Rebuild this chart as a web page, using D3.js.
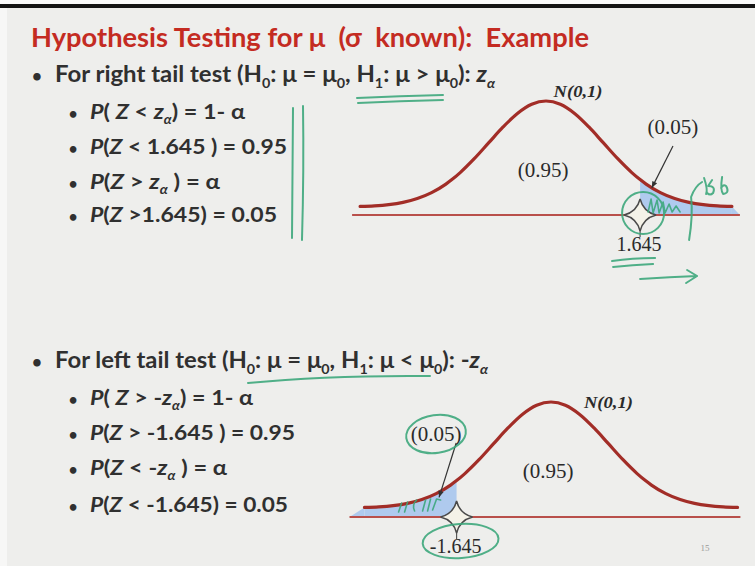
<!DOCTYPE html>
<html>
<head>
<meta charset="utf-8">
<script src="https://cdn.jsdelivr.net/npm/d3@7"></script>
<style>
  html, body { margin: 0; padding: 0; background: #eeeeec; }
  svg { display: block; }
  text { white-space: pre; }
</style>
</head>
<body>
<svg id="slide" width="755" height="566"></svg>
<script>
// ---- Standard normal density N(0,1), tabulated ----
const zValues = [-3.25, -3, -2.75, -2.5, -2.25, -2, -1.75, -1.645, -1.5, -1.25, -1, -0.75, -0.5, -0.25, 0,
                 0.25, 0.5, 0.75, 1, 1.25, 1.5, 1.645, 1.75, 2, 2.25, 2.5, 2.75, 3, 3.25];
const densities = [0.0020, 0.0044, 0.0091, 0.0175, 0.0317, 0.0540, 0.0863, 0.1031, 0.1295, 0.1826, 0.2420, 0.3011, 0.3521, 0.3867, 0.3989,
                   0.3867, 0.3521, 0.3011, 0.2420, 0.1826, 0.1295, 0.1031, 0.0863, 0.0540, 0.0317, 0.0175, 0.0091, 0.0044, 0.0020];
const criticalValues = [1.645, -1.645];       // right-tail, left-tail
const tailSides = ["right", "left"];
const bodyAreaLabels = ["(0.95)", "(0.95)"];
const tailAreaLabels = ["(0.05)", "(0.05)"];
const tickLabels = ["1.645", "-1.645"];
const distLabels = ["N(0,1)", "N(0,1)"];

// ---- Slide text (segments: [text, flags]; i = italic, s = subscript) ----
const titleText = "Hypothesis Testing for \u03bc  (\u03c3  known):  Example";
const headRight = [["For right tail test (H"], ["0", "s"], [": \u03bc = \u03bc"], ["0", "s"], [", H"], ["1", "s"], [": \u03bc > \u03bc"], ["0", "s"], ["): "], ["z", "i"], ["\u03b1", "is"]];
const headLeft  = [["For left tail test (H"], ["0", "s"], [": \u03bc = \u03bc"], ["0", "s"], [", H"], ["1", "s"], [": \u03bc < \u03bc"], ["0", "s"], ["): -"], ["z", "i"], ["\u03b1", "is"]];
const rowsRight = [
  [["P", "i"], ["( "], ["Z", "i"], [" < "], ["z", "i"], ["\u03b1", "is"], [") = 1- \u03b1"]],
  [["P", "i"], ["("], ["Z", "i"], [" < 1.645 ) = 0.95"]],
  [["P", "i"], ["("], ["Z", "i"], [" > "], ["z", "i"], ["\u03b1", "is"], [" ) = \u03b1"]],
  [["P", "i"], ["("], ["Z", "i"], [" >1.645) = 0.05"]]
];
const rowsLeft = [
  [["P", "i"], ["( "], ["Z", "i"], [" > -"], ["z", "i"], ["\u03b1", "is"], [") = 1- \u03b1"]],
  [["P", "i"], ["("], ["Z", "i"], [" > -1.645 ) = 0.95"]],
  [["P", "i"], ["("], ["Z", "i"], [" < -"], ["z", "i"], ["\u03b1", "is"], [" ) = \u03b1"]],
  [["P", "i"], ["("], ["Z", "i"], [" < -1.645) = 0.05"]]
];

// ---- Layout ----
const W = 755, H = 566;
const sans = "Lato, 'Open Sans', sans-serif";
const serif = "'Liberation Serif', 'DejaVu Serif', serif";
const ink = "#303030", red = "#c42b22", curveRed = "#a22d27", axisRed = "#b9504b";
const fillBlue = "#afcaee", penGreen = "#3da77c";

const svg = d3.select("#slide");

// slide frame
svg.append("rect").attr("width", W).attr("height", H).attr("fill", "#eeeeec");
svg.append("rect").attr("x", 0).attr("y", 0).attr("width", 7).attr("height", H).attr("fill", "#f7f7f6");
svg.append("rect").attr("x", 0).attr("y", 0).attr("width", W).attr("height", 4).attr("fill", "#fafafa");
svg.append("rect").attr("x", 0).attr("y", 4).attr("width", W).attr("height", 4).attr("fill", "#141414");

function richText(parent, x, y, segs, size, width, color, weight) {
  const t = parent.append("text")
    .attr("x", x).attr("y", y)
    .attr("font-family", sans).attr("font-size", size)
    .attr("font-weight", weight || 700).attr("fill", color || ink);
  let shifted = 0;
  segs.forEach(([txt, flags = ""]) => {
    const sp = t.append("tspan").text(txt);
    if (flags.includes("i")) sp.attr("font-style", "italic");
    const wantShift = flags.includes("s") ? Math.round(size * 0.25) : 0;
    if (wantShift !== shifted) { sp.attr("dy", wantShift - shifted); shifted = wantShift; }
    if (flags.includes("s")) sp.attr("font-size", size * 0.6);
  });
  if (width) t.attr("textLength", width).attr("lengthAdjust", "spacingAndGlyphs");
  return t;
}
function bullet(x, y, size) {
  svg.append("text").attr("x", x).attr("y", y).attr("text-anchor", "middle")
    .attr("font-family", sans).attr("font-size", size).attr("font-weight", 700)
    .attr("fill", ink).text("\u2022");
}

// Title
svg.append("text").attr("x", 31).attr("y", 47)
  .attr("font-family", sans).attr("font-size", 27).attr("font-weight", 700)
  .attr("fill", red).attr("textLength", 558).attr("lengthAdjust", "spacingAndGlyphs")
  .text(titleText);

// Headings and sub-bullets
const sections = [
  { head: headRight, headY: 82, headW: 440, rows: rowsRight, rowY: [119, 154, 189, 222], rowW: [155, 197, 130, 187] },
  { head: headLeft,  headY: 368, headW: 433, rows: rowsLeft,  rowY: [405, 440, 475, 512], rowW: [163, 205, 137, 198] }
];
sections.forEach(s => {
  bullet(37, s.headY, 17);
  richText(svg, 55, s.headY, s.head, 22, s.headW);
  s.rows.forEach((r, i) => {
    bullet(73, s.rowY[i], 15);
    richText(svg, 90, s.rowY[i], r, 21, s.rowW[i]);
  });
});

// ---- Normal curve panels ----
const panels = [
  { cx: 546, unit: 57.2, yZero: 207, yPeak: 101, base: 215, baseDomain: [-3.39, 3.39] },
  { cx: 551, unit: 57.4, yZero: 508, yPeak: 402, base: 517, baseDomain: [-3.51, 3.30] }
];
const pts = zValues.map((z, i) => ({ z, d: densities[i] }));

function star(r) {
  const k = r * 0.2;
  return `M0,${-r} Q${k},${-k} ${r},0 Q${k},${k} 0,${r} Q${-k},${k} ${-r},0 Q${-k},${-k} 0,${-r}Z`;
}

panels.forEach((p, idx) => {
  const x = d3.scaleLinear().domain([0, 1]).range([p.cx, p.cx + p.unit]);
  const y = d3.scaleLinear().domain([0, d3.max(densities)]).range([p.yZero, p.yPeak]);
  const g = svg.append("g");
  const crit = criticalValues[idx];
  const side = tailSides[idx];

  // shaded tail area between curve and axis
  const tail = pts.filter(d => side === "right" ? d.z >= crit : d.z <= crit);
  const area = d3.area().x(d => x(d.z)).y0(p.base).y1(d => y(d.d)).curve(d3.curveMonotoneX);
  g.append("path").datum(tail).attr("d", area).attr("fill", fillBlue);
  // tail sliver reaching the axis end
  const edgeZ = side === "right" ? zValues[zValues.length - 1] : zValues[0];
  const axisEnd = side === "right" ? p.baseDomain[1] : p.baseDomain[0];
  g.append("path")
    .attr("d", `M${x(edgeZ)},${y(densities[side === "right" ? densities.length - 1 : 0])} L${x(axisEnd)},${p.base} L${x(edgeZ)},${p.base}Z`)
    .attr("fill", fillBlue);

  // horizontal axis
  g.append("line").attr("x1", x(p.baseDomain[0])).attr("x2", x(p.baseDomain[1]))
    .attr("y1", p.base).attr("y2", p.base).attr("stroke", axisRed).attr("stroke-width", 1.8);

  // density curve
  const line = d3.line().x(d => x(d.z)).y(d => y(d.d)).curve(d3.curveMonotoneX);
  g.append("path").datum(pts).attr("d", line).attr("fill", "none")
    .attr("stroke", curveRed).attr("stroke-width", 3.2).attr("stroke-linecap", "round");

  // critical-value marker
  const cxp = x(crit);
  g.append("line").attr("x1", cxp).attr("x2", cxp).attr("y1", p.base).attr("y2", p.base + 22)
    .attr("stroke", "#555").attr("stroke-width", 1.2);
  g.append("path").attr("d", star(16)).attr("transform", `translate(${cxp},${p.base})`)
    .attr("fill", "#f4f2e8").attr("stroke", "#4a4a4a").attr("stroke-width", 1.5);

  // labels
  g.append("text").attr("x", cxp - 1).attr("y", p.base + 36).attr("text-anchor", "middle")
    .attr("font-family", serif).attr("font-size", 20).attr("fill", "#2a2a2a").text(tickLabels[idx]);
  g.append("text").attr("x", x(-0.05)).attr("y", p.yZero - 30).attr("text-anchor", "middle")
    .attr("font-family", serif).attr("font-size", 21).attr("fill", "#2a2a2a").text(bodyAreaLabels[idx]);
  const nPos = idx === 0 ? [x(0.56), p.yPeak - 4] : [x(1.0), p.yPeak + 6];
  g.append("text").attr("x", nPos[0]).attr("y", nPos[1]).attr("text-anchor", "middle")
    .attr("font-family", serif).attr("font-size", 16).attr("font-style", "italic").attr("font-weight", 700)
    .attr("fill", "#2a2a2a").attr("textLength", 49).attr("lengthAdjust", "spacingAndGlyphs").text(distLabels[idx]);

  // tail-area label with pointer to the shaded area
  const lab = idx === 0 ? [x(2.22), 134] : [x(-2.0), 441];
  g.append("text").attr("x", lab[0]).attr("y", lab[1]).attr("text-anchor", "middle")
    .attr("font-family", serif).attr("font-size", 21).attr("fill", "#2a2a2a").text(tailAreaLabels[idx]);
  const tipZ = idx === 0 ? 1.85 : -1.95;
  const tipD = idx === 0 ? 0.0720 : 0.0400;
  const tip = [x(tipZ), y(tipD)];
  const from = idx === 0 ? [lab[0], lab[1] + 12] : [lab[0] + 20, lab[1] + 2];
  g.append("line").attr("x1", from[0]).attr("y1", from[1]).attr("x2", tip[0]).attr("y2", tip[1])
    .attr("stroke", "#333").attr("stroke-width", 1.2);
  const ang = Math.atan2(tip[1] - from[1], tip[0] - from[0]);
  const ah = 7, aw = 0.4;
  g.append("path")
    .attr("d", `M${tip[0]},${tip[1]} L${tip[0] - ah * Math.cos(ang - aw)},${tip[1] - ah * Math.sin(ang - aw)} L${tip[0] - ah * Math.cos(ang + aw)},${tip[1] - ah * Math.sin(ang + aw)}Z`)
    .attr("fill", "#333");

  p.x = x; p.y = y;
});

// page number
svg.append("text").attr("x", 705).attr("y", 551).attr("text-anchor", "middle")
  .attr("font-family", serif).attr("font-size", 9).attr("fill", "#9a9a9a").text("15");

// ---- Pen annotations ----
const pen = svg.append("g").attr("fill", "none").attr("stroke", penGreen)
  .attr("stroke-width", 2).attr("stroke-linecap", "round").attr("stroke-linejoin", "round").attr("opacity", 0.9);
const P0 = panels[0], P1 = panels[1];
const c0 = P0.x(criticalValues[0]), c1 = P1.x(criticalValues[1]);

// right-tail section
pen.append("path").attr("d", "M357,98 Q400,96 443,95 M358,103 Q400,101 443,100");
pen.append("path").attr("d", "M293,108 L292,238 M303,106 Q304,170 302,240");
pen.append("ellipse").attr("cx", c0 + 3).attr("cy", P0.base - 2).attr("rx", 21).attr("ry", 21);
pen.append("path").attr("stroke-width", 1.6)
  .attr("d", `M${c0 + 8},212 L${c0 + 11},199 L${c0 + 13},213 L${c0 + 17},200 L${c0 + 19},213 L${c0 + 23},202 L${c0 + 25},213 L${c0 + 29},204 L${c0 + 32},212 L${c0 + 36},206 L${c0 + 40},212`);
pen.append("path").attr("d", `M${c0 + 49},240 Q${c0 + 53},215 ${c0 + 51},197 Q${c0 + 55},186 ${c0 + 62},182 M${c0 + 64},178 Q${c0 + 68},190 ${c0 + 66},194`);
pen.append("path").attr("d", `M${c0 + 72},180 L${c0 + 68},186 Q${c0 + 76},186 ${c0 + 73},193 Q${c0 + 70},196 ${c0 + 67},193 M${c0 + 82},177 Q${c0 + 80},190 ${c0 + 83},194 Q${c0 + 90},193 ${c0 + 86},186 Q${c0 + 83},184 ${c0 + 81},188`);
pen.append("path").attr("d", `M${c0 - 28},261 Q${c0 - 8},258 ${c0 + 15},258 M${c0 - 27},267 Q${c0 - 8},265 ${c0 + 13},264`);
pen.append("path").attr("d", `M${c0},279 Q${c0 + 30},277 ${c0 + 57},276 M${c0 + 47},270 L${c0 + 57},276 L${c0 + 46},283`);

// left-tail section
pen.append("path").attr("d", "M248,383 Q330,375 430,376");
pen.append("ellipse").attr("cx", 436).attr("cy", 434).attr("rx", 30).attr("ry", 19).attr("transform", "rotate(-8,436,434)");
pen.append("ellipse").attr("cx", c1 + 4).attr("cy", P1.base + 24).attr("rx", 38).attr("ry", 17).attr("transform", `rotate(-4,${c1 + 4},${P1.base + 24})`);
pen.append("path").attr("stroke-width", 1.6)
  .attr("d", `M${c1 - 58},512 L${c1 - 55},503 M${c1 - 52},512 L${c1 - 49},502 M${c1 - 42},511 Q${c1 - 45},505 ${c1 - 40},500 M${c1 - 34},511 L${c1 - 31},500 M${c1 - 29},511 L${c1 - 26},499 M${c1 - 24},510 L${c1 - 20},499 L${c1 - 16},500`);
</script>
</body>
</html>
